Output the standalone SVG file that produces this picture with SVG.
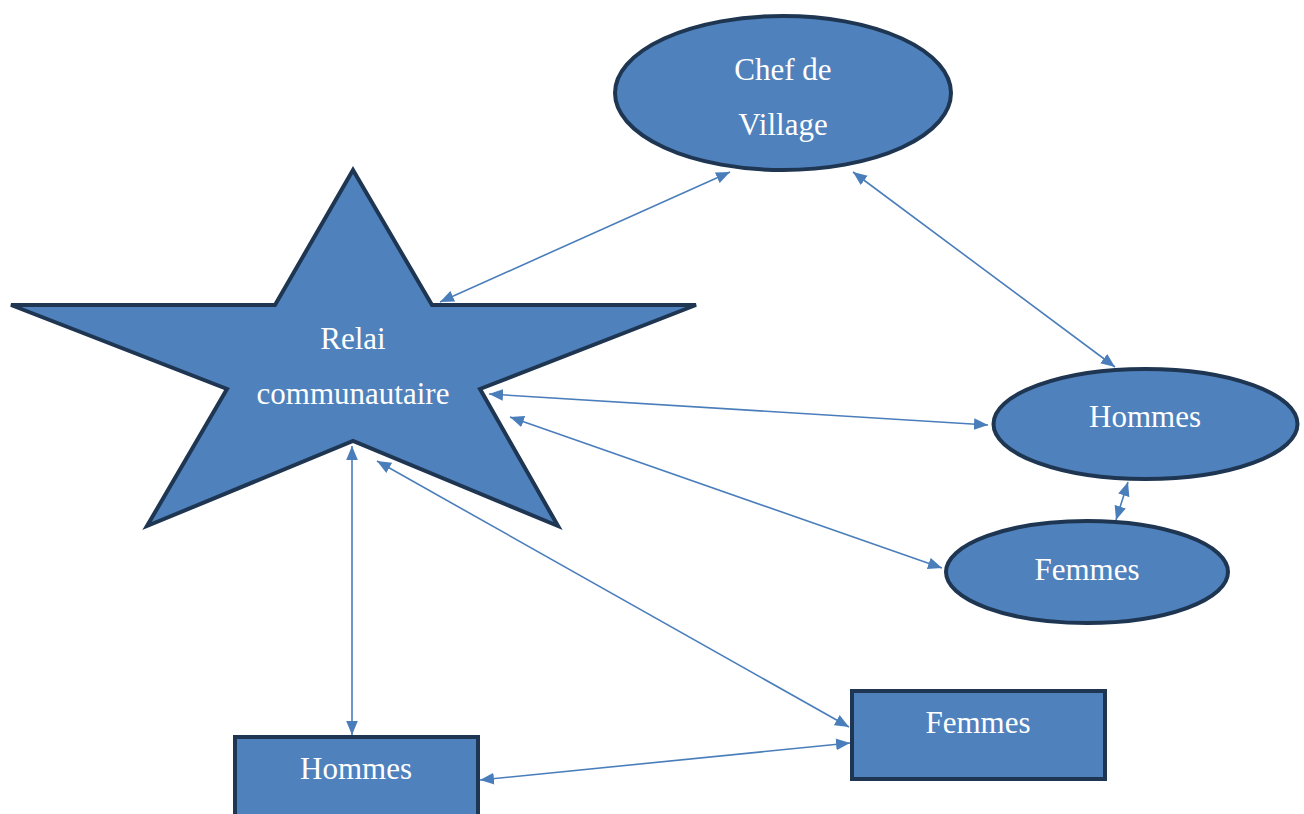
<svg xmlns="http://www.w3.org/2000/svg" width="1304" height="814" viewBox="0 0 1304 814">
<style>
.node{fill:#4F81BD;stroke:#1F3652;stroke-width:4}
.lbl{font-family:"Liberation Serif","Times New Roman",serif;font-size:31px;fill:#FFFFFF;text-anchor:middle}
.conn{stroke:#4A7EBB;stroke-width:1.6;fill:none;marker-start:url(#ah);marker-end:url(#ah)}
</style>
<defs>
<marker id="ah" viewBox="0 0 12 10" refX="12" refY="5" markerWidth="14" markerHeight="12" markerUnits="userSpaceOnUse" orient="auto-start-reverse">
<path d="M0,0 L12,5 L0,10 Z" fill="#4A7EBB"/>
</marker>
</defs>
<rect width="1304" height="814" fill="#FFFFFF"/>
<g id="connectors">
<line class="conn" x1="440" y1="302" x2="730" y2="172"/>
<line class="conn" x1="853" y1="172" x2="1115" y2="367"/>
<line class="conn" x1="489" y1="394" x2="988" y2="425"/>
<line class="conn" x1="510" y1="417" x2="942" y2="568"/>
<line class="conn" x1="1128" y1="482" x2="1116" y2="520"/>
<line class="conn" x1="352" y1="446" x2="352" y2="735"/>
<line class="conn" x1="377" y1="461" x2="849" y2="727"/>
<line class="conn" x1="480" y1="780" x2="850" y2="743"/>
</g>
<g id="relai">
<polygon class="node" points="353,170 432,305 696,305 480,389 558,526 353,441 147,526 227,389 11,305 275,305"/>
<text class="lbl" x="353" y="349">Relai</text>
<text class="lbl" x="353" y="404">communautaire</text>
</g>
<g id="chef">
<ellipse class="node" cx="783" cy="93" rx="168" ry="77"/>
<text class="lbl" x="783" y="80">Chef de</text>
<text class="lbl" x="783" y="135">Village</text>
</g>
<g id="hommes-ellipse">
<ellipse class="node" cx="1145.5" cy="424" rx="152" ry="55"/>
<text class="lbl" x="1145" y="427">Hommes</text>
</g>
<g id="femmes-ellipse">
<ellipse class="node" cx="1087" cy="572" rx="141" ry="51"/>
<text class="lbl" x="1087" y="580">Femmes</text>
</g>
<g id="femmes-rect">
<rect class="node" x="852" y="691" width="253" height="88"/>
<text class="lbl" x="978" y="733">Femmes</text>
</g>
<g id="hommes-rect">
<rect class="node" x="235" y="737" width="243" height="90"/>
<text class="lbl" x="356" y="779">Hommes</text>
</g>
</svg>
